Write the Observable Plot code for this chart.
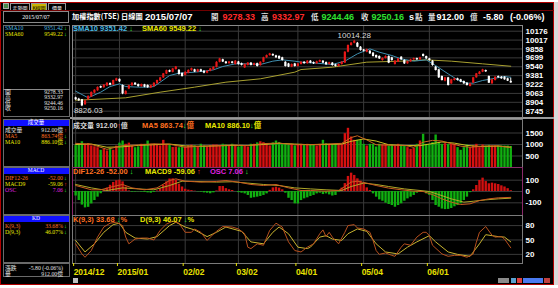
<!DOCTYPE html>
<html><head><meta charset="utf-8">
<script src="https://cdn.jsdelivr.net/npm/d3@7"></script>
<script src="https://cdn.jsdelivr.net/npm/@observablehq/plot@0.6"></script>
<style>
html,body{margin:0;padding:0;background:#fff;width:558px;height:288px;overflow:hidden;}
#root{position:absolute;left:0;top:0;width:558px;height:288px;}
.t{position:absolute;white-space:nowrap;line-height:1;}
</style></head><body><div id="root"></div>
<script>
// ---------- data ----------
const monthIdx = [0, 14, 35, 52, 71, 92, 113];
const monthLabels = ["2014/12", "2015/01", "02/02", "03/02", "04/01", "05/04", "06/01"];
const priceTicks = [10176, 10017, 9858, 9699, 9540, 9381, 9222, 9063, 8904, 8745];
const volTicks = [1500, 1000, 500];
const macdTicks = [100, 0, -100];
const kdTicks = [80, 50, 20];
const dayChange = -5.80;
const dayChangePct = "(-0.06%)";

const open = [8984,8960,8950,8860,8950,9000,9070,9110,9185,9165,
9195,9240,9215,9285,9315,9204,9045,9140,9200,9245,
9220,9185,9215,9205,9160,9185,9235,9285,9340,9410,
9470,9440,9490,9475,9420,9385,9425,9470,9485,9445,
9485,9460,9425,9460,9485,9530,9620,9665,9625,9595,
9625,9580,9625,9595,9520,9565,9605,9565,9595,9560,
9620,9700,9740,9760,9735,9725,9700,9620,9590,9535,
9590,9545,9580,9620,9595,9640,9615,9592,9622,9640,
9615,9580,9605,9575,9545,9580,9605,9800,9920,9960,
9960,9890,9840,9800,9818,9783,9741,9723,9652,9687,
9723,9700,9580,9622,9711,9652,9592,9628,9663,9687,
9663,9759,9723,9681,9640,9532,9485,9365,9282,9342,
9234,9294,9324,9306,9276,9246,9186,9246,9342,9401,
9443,9473,9365,9234,9294,9365,9353,9353,9324,9278.33];
const high = [8995,8975,8955,8940,9020,9090,9130,9180,9195,9220,
9255,9250,9300,9335,9320,9215,9110,9210,9255,9255,
9230,9230,9225,9215,9210,9255,9300,9350,9420,9480,
9480,9510,9545,9490,9430,9450,9485,9515,9495,9495,
9495,9470,9470,9510,9540,9630,9690,9675,9635,9635,
9635,9650,9635,9605,9590,9615,9615,9605,9605,9630,
9710,9750,9780,9770,9745,9735,9710,9630,9600,9590,
9600,9600,9630,9630,9650,9650,9625,9640,9660,9650,
9625,9620,9615,9585,9590,9630,9810,9930,9975,10014.28,
9975,9900,9850,9855,9830,9795,9750,9735,9700,9735,
9735,9710,9650,9690,9720,9665,9640,9675,9695,9695,
9710,9770,9730,9690,9650,9545,9495,9375,9350,9350,
9315,9335,9335,9315,9285,9255,9245,9350,9420,9455,
9495,9480,9375,9315,9360,9375,9365,9360,9335,9332.97];
const low = [8940,8920,8826.03,8850,8940,8990,9060,9100,9150,9155,
9185,9200,9205,9275,9260,9040,9035,9130,9190,9205,
9175,9175,9165,9155,9150,9175,9225,9275,9330,9400,
9435,9430,9480,9390,9355,9375,9415,9460,9435,9435,
9440,9415,9415,9450,9475,9520,9610,9615,9585,9585,
9590,9570,9570,9555,9510,9555,9555,9555,9535,9550,
9610,9690,9730,9725,9690,9670,9640,9535,9525,9525,
9535,9535,9570,9585,9585,9595,9580,9585,9615,9595,
9565,9570,9550,9535,9535,9570,9600,9790,9910,9950,
9880,9820,9805,9790,9760,9715,9690,9670,9640,9680,
9595,9640,9570,9615,9655,9580,9585,9620,9655,9655,
9655,9715,9670,9640,9550,9465,9330,9285,9270,9195,
9225,9285,9285,9255,9225,9195,9180,9240,9335,9395,
9435,9440,9240,9225,9285,9335,9315,9300,9275,9244.46];
const close = [8948,8930,8840,8930,9010,9080,9120,9170,9160,9210,
9245,9210,9294,9325,9270,9055,9100,9200,9245,9215,
9185,9220,9175,9165,9200,9245,9294,9340,9413,9470,
9443,9500,9535,9400,9365,9440,9475,9505,9445,9485,
9450,9425,9460,9500,9530,9620,9680,9625,9595,9625,
9600,9640,9580,9565,9580,9605,9565,9595,9545,9620,
9700,9740,9770,9735,9700,9680,9652,9545,9535,9580,
9545,9590,9620,9595,9640,9605,9592,9628,9652,9605,
9575,9610,9562,9545,9580,9622,9800,9920,9962,9995,
9890,9830,9818,9842,9771,9723,9700,9681,9687,9723,
9605,9652,9640,9681,9663,9592,9628,9663,9687,9663,
9700,9723,9681,9652,9562,9473,9342,9294,9342,9204,
9306,9324,9294,9264,9234,9204,9234,9342,9413,9443,
9485,9449,9246,9306,9353,9342,9324,9306,9282,9250.16];
const volume = [950,1040,1120,1010,1040,940,900,860,750,790,
720,830,750,930,1060,1150,1010,1060,940,860,
900,1010,1010,1150,1010,1010,970,940,1180,1010,
980,870,890,860,890,890,940,970,940,890,
1010,940,890,950,980,980,940,1010,980,940,
1010,950,890,960,940,890,1010,1010,1070,1120,
1080,1010,940,1070,1150,1080,1010,1040,970,1010,
940,1000,1008,979,1008,979,965,935,1008,1181,
1037,1008,965,1008,1037,1010,1472,1704,1327,1181,
1181,1181,1008,935,1008,1008,892,1008,979,1008,
935,979,935,1008,965,935,863,790,834,1008,
1153,1443,1008,1008,1081,1414,1081,1008,1037,1008,
1008,1008,863,747,863,979,863,935,1008,863,
979,935,965,935,935,935,935,935,935,912];
const osc = [-40,-80,-120,-145,-140,-110,-80,-50,-20,10,
30,55,80,95,100,85,40,5,-6,-5,
-3,-6,-8,-12,-15,-8,5,25,55,85,
110,112,100,65,40,20,12,8,3,-3,
-6,-12,-15,-20,-12,5,44,44,25,15,
9,0,-10,-15,-21,-35,-60,-55,-50,-44,
-35,-21,10,32,38,30,15,-15,-60,-80,
-109,-110,-80,-65,-56,-44,-35,-21,-15,-27,
-21,-30,-40,-35,-6,30,70,133,162,142,
112,91,68,32,9,-21,-50,-74,-86,-103,
-115,-124,-139,-124,-109,-86,-65,-50,-35,-15,
3,-6,-21,-35,-80,-124,-139,-155,-160,-158,
-150,-135,-124,-109,-80,-50,-10,15,53,97,
118,88,68,74,68,62,50,40,25,7.06];

const sma10Idx = [0,4,8,11,14,16,20,23,25,27,30,33,38,41,44,47,51,55,59,63,66,70,72,77,82,86,90,94,97,101,104,108,112,115,119,122,125,127,130,133,137,139];
const sma10 = [9103,8984,9085,9186,9234,9186,9175,9175,9186,9264,9383,9425,9443,9461,9484,9544,9592,9592,9580,9640,9663,9640,9622,9604,9580,9640,9771,9860,9801,9741,9681,9640,9663,9562,9413,9306,9246,9246,9294,9324,9365,9351.42];
const sma60Idx = [0,3,16,27,38,48,59,70,72,82,93,104,112,120,130,139];
const sma60 = [8942,8948,8984,9085,9175,9264,9324,9443,9490,9532,9622,9640,9663,9640,9592,9549.22];

const vma5Idx = [0,5,10,15,20,25,30,35,40,45,50,55,60,65,70,75,80,85,88,90,93,96,100,105,108,111,114,117,120,123,126,130,135,139];
const vma5 = [1050,1010,790,950,980,1030,1010,880,930,950,980,950,1040,1060,990,995,1020,1050,1300,1380,1200,990,970,960,880,1100,1180,1150,1040,930,880,930,940,863.74];
const vma10Idx = [0,5,10,15,20,25,30,35,40,45,50,55,60,65,70,75,80,85,88,92,96,100,105,110,113,117,121,125,130,135,139];
const vma10 = [1000,1020,880,900,960,990,1020,940,920,940,960,960,1000,1050,1020,990,1000,1020,1140,1240,1150,990,960,950,1020,1110,1060,960,910,930,886.10];

const difIdx = [0,5,8,12,15,18,22,26,30,32,35,40,45,48,52,56,60,64,68,72,75,80,84,86,88,90,93,96,100,104,108,111,114,117,120,123,126,129,132,135,139];
const dif = [53,15,15,44,62,32,15,32,97,112,91,83,89,97,83,62,53,62,32,9,9,3,9,44,83,91,74,53,30,15,3,0,-27,-65,-94,-115,-109,-80,-65,-56,-52.00];
const macd9Idx = [0,5,10,15,20,25,30,34,38,45,50,55,60,65,70,75,80,85,88,92,96,100,105,110,113,116,120,124,127,131,135,139];
const macd9 = [62,32,9,32,23,15,53,91,89,83,86,74,62,53,32,23,15,9,44,74,62,44,23,9,0,-27,-65,-94,-86,-74,-65,-59.06];

const kIdx = [0,2,3,5,7,9,11,13,15,16,17,19,21,23,25,27,29,31,33,35,37,38,40,42,43,45,47,50,52,54,55,56,58,60,62,64,66,68,70,72,74,76,78,79,80,81,82,84,86,87,89,90,92,94,95,96,97,99,101,102,104,105,107,109,111,112,113,114,117,119,121,123,125,127,128,129,131,133,134,136,137,139];
const kVal = [42,21,14,28,56,77,85,87,80,56,42,52,54,54,50,70,83,89,85,66,66,73,66,49,56,68,78,77,73,63,35,32,42,39,70,85,77,46,28,25,35,42,63,71,57,66,56,42,66,80,82,75,73,66,49,28,20,23,18,16,35,42,39,56,66,66,59,39,21,16,18,18,14,21,45,66,78,60,56,57,52,33.68];
const dIdx = [0,3,6,9,12,14,16,19,23,26,30,32,35,38,42,45,48,53,56,60,63,65,68,71,74,75,78,80,82,85,87,90,93,96,99,103,106,109,113,115,119,122,126,129,131,135,137,139];
const dVal = [49,25,42,66,82,85,66,54,52,57,80,87,77,71,57,66,77,68,46,42,66,77,63,35,32,35,56,59,52,49,63,73,68,42,25,21,35,46,59,46,25,20,16,42,61,57,56,46.07];

// ---------- layout helpers ----------
const root = document.getElementById("root");
const FN = "'Liberation Sans', Arial, 'Noto Sans CJK TC', sans-serif";
const FS = "'Liberation Serif', 'Noto Sans CJK TC', serif";
const FC = "'Noto Sans CJK TC', 'Liberation Sans', sans-serif";
function box(x, y, w, h, style) {
  const d = document.createElement("div");
  Object.assign(d.style, {position: "absolute", left: x + "px", top: y + "px", width: w + "px", height: h + "px", boxSizing: "border-box"}, style || {});
  root.appendChild(d);
  return d;
}
function put(x, y, txt, color, size, opt) {
  opt = opt || {};
  const d = document.createElement("div");
  d.className = "t";
  d.textContent = txt;
  Object.assign(d.style, {left: x + "px", top: y + "px", color, fontSize: size + "px",
    fontFamily: opt.font || FN, fontWeight: opt.bold === false ? "normal" : "bold",
    transform: `translate(${opt.right ? "-100%" : opt.center ? "-50%" : "0"}, -50%)`});
  root.appendChild(d);
}
// multi-colour label made of inline segments
function seg(x, y, parts, size, opt) {
  opt = opt || {};
  const d = document.createElement("div");
  d.className = "t";
  Object.assign(d.style, {left: x + "px", top: y + "px", fontSize: size + "px", fontFamily: opt.font || FN,
    fontWeight: opt.bold === false ? "normal" : "bold",
    transform: `translate(${opt.right ? "-100%" : "0"}, -50%)`});
  parts.forEach(([t, c, f]) => {
    const s = document.createElement("span");
    s.textContent = t; s.style.color = c;
    if (f) s.style.fontFamily = f;
    d.appendChild(s);
  });
  root.appendChild(d);
}

// ---------- frame / background ----------
box(0, 2, 554, 283, {background: "#000", border: "1px solid #b00000"});
box(554, 2, 4, 283, {background: "#d8d8d8"});
// tabs
box(3, 3, 6, 6, {background: "#4a8a4a", border: "1px solid #aaa"});
box(10, 3, 20, 7, {border: "1px solid #999", borderBottom: "none"});
box(31, 3, 16, 7, {background: "#c8b400", border: "1px solid #999", borderBottom: "none"});
box(48, 3, 18, 7, {border: "1px solid #999", borderBottom: "none"});
put(20, 6.7, "走勢圖", "#fff", 5, {center: true, font: FC, bold: false});
put(39, 6.7, "K線圖", "#000", 5, {center: true, font: FC, bold: false});
put(57, 6.7, "價量", "#fff", 5, {center: true, font: FC, bold: false});
box(0, 10, 554, 1, {background: "#700000"});
// left column boxes
box(3, 11, 66, 12, {border: "1px solid #8a8a8a"});
[[25, 92], [119, 48], [167, 48], [215, 48], [263, 14]].forEach(([y, h]) => box(3, y, 67, h, {border: "1px solid #6a6a6a"}));
box(3, 89, 67, 1, {background: "#8a8a8a"});
box(4, 119.5, 65, 6, {background: "#1010ff"});
box(4, 167.5, 65, 6, {background: "#1010ff"});
box(4, 216, 65, 6, {background: "#1010ff"});
box(70, 117, 484, 2, {background: "#9a9a9a"});
// bottom scroll strip
box(73, 278, 5, 5, {background: "#c0c0c0"});
box(498, 278, 11, 5, {background: "#8a8a8a"});
box(511, 278, 5, 5, {background: "#5aa0d0"});
box(517, 278, 5, 5, {background: "#e04040"});
box(523, 278, 20, 5, {background: "#4a7af0"});
box(544, 278, 6, 5, {background: "#c04040"});

// ---------- panels ----------
const xDomain = [-1, 142.75];
const days = close.map((c, i) => ({i, open: open[i], high: high[i], low: low[i], close: c, vol: volume[i], osc: osc[i], up: c >= open[i]}));
const baseStyle = {background: "transparent", color: "#fff", fontFamily: FN, fontSize: "8px", fontWeight: "bold", overflow: "visible"};
const GRID = "#3a3a3a";

function panel(top, height, yDomain, ticks, marks, frameColor, mb, extra) {
  const svg = Plot.plot({
    width: 558, height, marginLeft: 72, marginRight: 36, marginTop: 0, marginBottom: mb || 0,
    style: baseStyle,
    x: {domain: xDomain, axis: null},
    y: {domain: yDomain, axis: null},
    marks: [
      Plot.ruleY(ticks, {stroke: GRID}),
      Plot.ruleX(monthIdx, {stroke: GRID}),
      ...marks,
      Plot.axisY(ticks, {anchor: "right", label: null, tickSize: 0, tickPadding: 3, tickFormat: d => String(d), fill: "#fff"}),
      Plot.frame({stroke: frameColor}),
      ...(extra || [])
    ]
  });
  svg.style.position = "absolute";
  svg.style.left = "0px";
  svg.style.top = top + "px";
  root.appendChild(svg);
}

// price
panel(25, 92, [8632, 10278], priceTicks, [
  Plot.line(sma60, {x: sma60Idx, y: sma60, stroke: "#a8a030", strokeWidth: 1}),
  Plot.line(sma10, {x: sma10Idx, y: sma10, stroke: "#3f8fb0", strokeWidth: 1}),
  Plot.ruleX(days, {x: "i", y1: "low", y2: "high", stroke: d => d.up ? "#e81818" : "#ffffff", strokeWidth: 1}),
  Plot.ruleX(days, {x: "i", y1: "open", y2: "close", stroke: d => d.up ? "#e81818" : "#ffffff", strokeWidth: 2.2}),
  Plot.text(days, {filter: d => d.i === 89, x: "i", y: "high", text: d => d.high.toFixed(2), dy: -5, fill: "#d8d8d8", fontSize: 8, fontWeight: "normal"}),
  Plot.text(days, {filter: d => d.i === 2, x: "i", y: "low", text: d => d.low.toFixed(2), dy: 4, dx: -8, textAnchor: "start", fill: "#d8d8d8", fontSize: 8, fontWeight: "normal"})
], "#8a8a8a");

// volume
panel(119, 48, [0, 2087], volTicks, [
  Plot.ruleX(days, {x: "i", y1: 0, y2: "vol", stroke: d => d.up ? "#d81010" : "#10b010", strokeWidth: 2.4}),
  Plot.line(vma10, {x: vma10Idx, y: vma10, stroke: "#c8c020", strokeWidth: 1}),
  Plot.line(vma5, {x: vma5Idx, y: vma5, stroke: "#c86820", strokeWidth: 1})
], "#7a7a7a");

// MACD
panel(167, 48, [-212, 212], macdTicks, [
  Plot.ruleX(days, {x: "i", y1: 0, y2: "osc", stroke: d => d.osc >= 0 ? "#d01010" : "#10b010", strokeWidth: 2.4}),
  Plot.line(macd9, {x: macd9Idx, y: macd9, stroke: "#b0a828", strokeWidth: 1}),
  Plot.line(dif, {x: difIdx, y: dif, stroke: "#c85a20", strokeWidth: 1})
], "#8a2a6a");

// KD + x axis
panel(215, 62, [1, 101], kdTicks, [
  Plot.line(dVal, {x: dIdx, y: dVal, stroke: "#c8b430", strokeWidth: 1}),
  Plot.line(kVal, {x: kIdx, y: kVal, stroke: "#b8501e", strokeWidth: 1})
], "#7a7a7a", 14, [
  Plot.axisX(monthIdx, {anchor: "bottom", label: null, tickSize: 3, tickPadding: 2, textAnchor: "start", dx: -2,
    tickFormat: d => monthLabels[monthIdx.indexOf(d)], fill: "#e8e000", stroke: "#e8e000", fontSize: 8.5})
]);

// ---------- text overlays ----------
const RED = "#ff2a2a", GREEN = "#30e030", ORANGE = "#ff7020", YEL = "#e8e800", TEAL = "#48b8e0", MAG = "#e020e0";
const last = close.length - 1;
const chgText = dayChange.toFixed(2) + " " + dayChangePct;
// header
put(72, 16.8, "加權指數(TSE)", "#fff", 7.2, {font: FC});
put(121, 16.8, "日線圖", "#fff", 7.2, {font: FC});
put(145, 16.8, "2015/07/07", "#fff", 9.5);
put(211, 16.8, "開", "#ddd", 7.5, {font: FC});
put(222.5, 16.8, open[last].toFixed(2), RED, 9);
put(261, 16.8, "高", "#ddd", 7.5, {font: FC});
put(272, 16.8, high[last].toFixed(2), RED, 9);
put(311, 16.8, "低", "#ddd", 7.5, {font: FC});
put(321.5, 16.8, low[last].toFixed(2), GREEN, 9);
put(361, 16.8, "收", "#ddd", 7.5, {font: FC});
put(371.5, 16.8, close[last].toFixed(2), GREEN, 9);
put(409, 16.8, "s", "#fff", 9);
put(415, 16.8, "點", "#ddd", 7.5, {font: FC});
put(428, 16.8, "量", "#ddd", 7.5, {font: FC});
put(436.5, 16.8, volume[last].toFixed(2), "#fff", 9);
put(470, 16.8, "億", "#ddd", 7.5, {font: FC});
put(483, 16.8, dayChange.toFixed(2), "#fff", 9);
put(510, 16.8, dayChangePct, "#fff", 9);

// panel labels
seg(73, 28.8, [["SMA10 " + sma10[sma10.length - 1].toFixed(2) + " ", TEAL], ["↓", GREEN]], 7.5);
seg(142, 28.8, [["SMA60 " + sma60[sma60.length - 1].toFixed(2) + " ", YEL], ["↓", GREEN]], 7.5);

seg(73, 125, [["成交量", "#d8d8d8", FC], [" " + volume[last].toFixed(2), "#d8d8d8"], ["↑", RED], ["億", "#d8d8d8", FC]], 7);
seg(142, 125, [["MA5 " + vma5[vma5.length - 1].toFixed(2), ORANGE], ["↓", GREEN], ["億", ORANGE, FC]], 7.5);
seg(205, 125, [["MA10 " + vma10[vma10.length - 1].toFixed(2), YEL], ["↓", GREEN], ["億", YEL, FC]], 7.5);

seg(73, 171.8, [["DIF12-26 " + dif[dif.length - 1].toFixed(2) + " ", ORANGE], ["↓", GREEN]], 7.5);
seg(145, 171.8, [["MACD9 " + macd9[macd9.length - 1].toFixed(2) + " ", YEL], ["↑", RED]], 7.5);
seg(210, 171.8, [["OSC " + osc[last].toFixed(2) + " ", MAG], ["↓", GREEN]], 7.5);

seg(73, 220.3, [["K(9,3) " + kVal[kVal.length - 1].toFixed(2) + " ", ORANGE], ["↓", GREEN], ["%", ORANGE]], 7.5);
seg(140, 220.3, [["D(9,3) " + dVal[dVal.length - 1].toFixed(2) + " ", YEL], ["↓", GREEN], ["%", YEL]], 7.5);

// left column
const LS = 5.8;
put(36, 17, "2015/07/07", "#fff", 6, {center: true, font: FS, bold: false});
function row(y, lab, val, col, arrow, acol) {
  put(5, y, lab, col, LS, {font: FS, bold: false});
  put(63, y, val, col, LS, {right: true, font: FS, bold: false});
  if (arrow) put(64, y, arrow, acol, LS, {font: FN});
}
row(28.5, "SMA10", sma10[sma10.length - 1].toFixed(2), TEAL, "↓", GREEN);
row(34.5, "SMA60", sma60[sma60.length - 1].toFixed(2), YEL, "↓", GREEN);
row(93.3, "開", open[last].toFixed(2), "#e0e0e0");
row(98.4, "高", high[last].toFixed(2), "#e0e0e0");
row(103.5, "低", low[last].toFixed(2), "#e0e0e0");
row(108.7, "收", close[last].toFixed(2), "#e0e0e0");
put(36, 122.6, "成交量", "#fff", 5.5, {center: true, font: FC, bold: false});
row(131, "成交量", volume[last].toFixed(2) + "億", "#e0e0e0", "↑", RED);
row(137, "MA5", vma5[vma5.length - 1].toFixed(2) + "億", ORANGE, "↓", GREEN);
row(143, "MA10", vma10[vma10.length - 1].toFixed(2) + "億", YEL, "↓", GREEN);
put(36, 170.6, "MACD", "#fff", 5.5, {center: true, font: FS, bold: false});
row(179, "DIF12-26", dif[dif.length - 1].toFixed(2), ORANGE, "↓", GREEN);
row(185.2, "MACD9", macd9[macd9.length - 1].toFixed(2), YEL, "↑", RED);
row(190.6, "OSC", osc[last].toFixed(2), MAG, "↓", GREEN);
put(36, 219.2, "KD", "#fff", 5.5, {center: true, font: FS, bold: false});
row(227.3, "K(9,3)", kVal[kVal.length - 1].toFixed(2) + "%", ORANGE, "↓", GREEN);
row(232.8, "D(9,3)", dVal[dVal.length - 1].toFixed(2) + "%", YEL, "↓", GREEN);
row(269.3, "漲跌", chgText, "#e0e0e0");
row(275, "量", volume[last].toFixed(2) + "億", "#e0e0e0");
</script></body></html>
